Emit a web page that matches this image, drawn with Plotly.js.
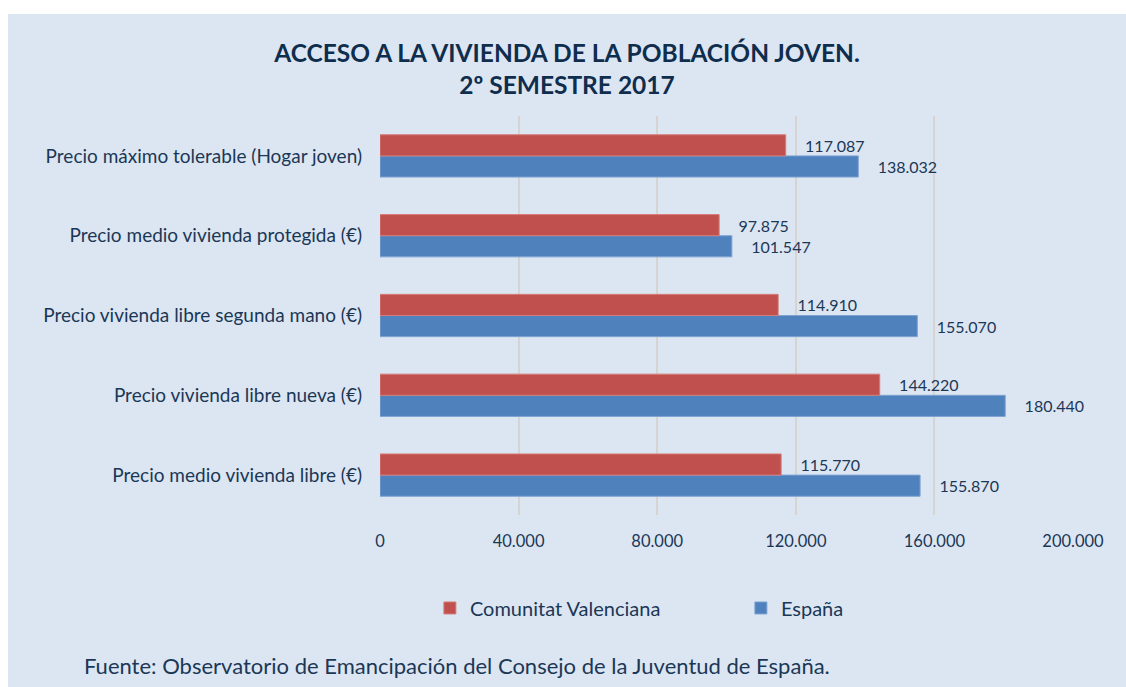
<!DOCTYPE html>
<html>
<head>
<meta charset="utf-8">
<script src="https://cdn.plot.ly/plotly-3.0.1.min.js"></script>
<style>
html,body{margin:0;padding:0;background:#ffffff;width:1126px;height:687px;overflow:hidden;}
#chart{position:absolute;left:8px;top:14px;width:1118px;height:673px;}
</style>
</head>
<body>
<div id="chart"></div>
<script>
// Categories listed bottom-to-top (Plotly draws the first category at the bottom)
const categories = [
  "Precio medio vivienda libre (€)",
  "Precio vivienda libre nueva (€)",
  "Precio vivienda libre segunda mano (€)",
  "Precio medio vivienda protegida (€)",
  "Precio máximo tolerable (Hogar joven)"
];
const valuesComunitat = [115770, 144220, 114910, 97875, 117087];
const valuesEspana = [155870, 180440, 155070, 101547, 138032];
const seriesNames = ["Comunitat Valenciana", "España"];
const tickValues = [0, 40000, 80000, 120000, 160000, 200000];

const FONT = "Lato, 'Open Sans', sans-serif";
const TXT = "#1b3756";

const traces = [
  {
    type: "bar", orientation: "h", name: seriesNames[1],
    y: categories, x: valuesEspana,
    marker: {color: "#4f81bd", line: {color: "#7ea3d3", width: 1}},
    texttemplate: "\u00a0\u00a0\u00a0\u00a0%{x:,.0f}", textposition: "outside",
    textfont: {family: FONT, size: 16, color: TXT}, cliponaxis: false,
    hoverinfo: "x+name"
  },
  {
    type: "bar", orientation: "h", name: seriesNames[0],
    y: categories, x: valuesComunitat,
    marker: {color: "#c0504d", line: {color: "#d47d7a", width: 1}},
    texttemplate: "\u00a0\u00a0\u00a0\u00a0%{x:,.0f}", textposition: "outside",
    textfont: {family: FONT, size: 16, color: TXT}, cliponaxis: false,
    hoverinfo: "x+name"
  }
];

const layout = {
  width: 1118, height: 673,
  paper_bgcolor: "#dce6f2", plot_bgcolor: "rgba(0,0,0,0)",
  separators: ",.",
  margin: {l: 372, r: 53, t: 102, b: 172},
  font: {family: FONT, color: TXT, size: 16},
  title: {
    text: "<b>ACCESO A LA VIVIENDA DE LA POBLACIÓN JOVEN.<br>2º SEMESTRE 2017</b>",
    font: {family: FONT, size: 24.5, color: "#0f2d4d"},
    x: 0.5, xanchor: "center", y: 1 - 48/673, yanchor: "top", yref: "container"
  },
  barmode: "group", bargap: 0.47, bargroupgap: 0,
  xaxis: {
    range: [0, 200000], tickvals: tickValues, tickformat: ",.0f",
    showgrid: true, gridcolor: "#d6d3d0", gridwidth: 2,
    zeroline: false, showline: false, ticks: "",
    ticklabelstandoff: 14, tickfont: {family: FONT, size: 16.5, color: TXT},
    fixedrange: true
  },
  yaxis: {
    type: "category", showgrid: false, zeroline: false, showline: false, ticks: "",
    ticklabelstandoff: 17, tickfont: {family: FONT, size: 19, color: TXT},
    fixedrange: true
  },
  showlegend: true,
  legend: {
    orientation: "h", traceorder: "reversed",
    x: 0.072, xanchor: "left", y: -0.233, yanchor: "middle",
    font: {family: FONT, size: 20, color: TXT},
    entrywidth: 266, bgcolor: "rgba(0,0,0,0)"
  },
  annotations: [{
    text: "Fuente: Observatorio de Emancipación del Consejo de la Juventud de España.",
    xref: "paper", yref: "paper", x: -0.430, y: -0.376,
    xanchor: "left", yanchor: "middle", showarrow: false,
    font: {family: FONT, size: 22, color: TXT}
  }]
};

Plotly.newPlot("chart", traces, layout, {displayModeBar: false, staticPlot: true});
</script>
</body>
</html>
